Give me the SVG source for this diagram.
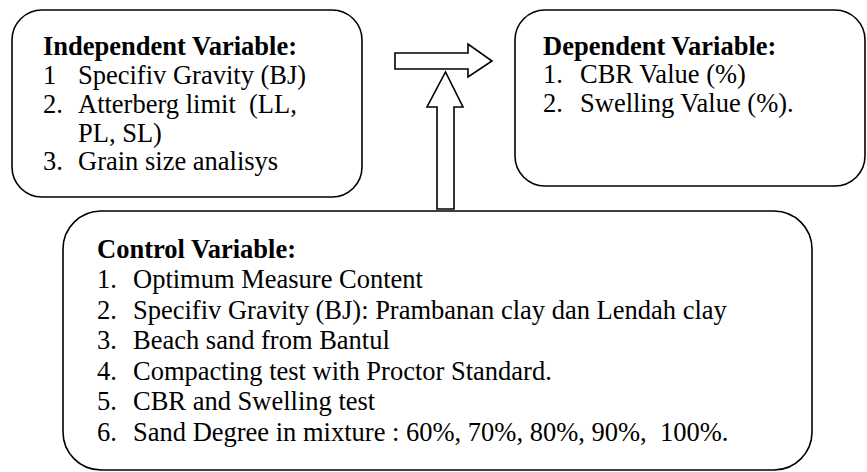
<svg xmlns="http://www.w3.org/2000/svg" width="867" height="472" viewBox="0 0 867 472">
<style>
.box{fill:#fff;stroke:#000;stroke-width:1.6}
.arr{fill:#fff;stroke:#000;stroke-width:1.6;stroke-linejoin:miter}
text{font-family:"Liberation Serif","Times New Roman",serif;font-size:26.5px;fill:#000}
.h{font-weight:bold}
</style>
<rect width="867" height="472" fill="#fff"/>
<g id="connectors">
<polygon class="arr" points="395,53 468,53 468,44 492,61 468,77 468,69 395,69"/>
<polygon class="arr" points="437,209 437,107 427,107 445.5,72 463,107 454,107 454,209"/>
</g>
<g id="independent">
<rect class="box" x="12" y="10" width="350" height="187" rx="30" ry="30"/>
<text class="h" x="43" y="55">Independent Variable:</text>
<text x="43" y="84">1</text><text x="78" y="84">Specifiv Gravity (BJ)</text>
<text x="43" y="113">2.</text><text x="78" y="113" xml:space="preserve">Atterberg limit  (LL,</text>
<text x="78" y="142">PL, SL)</text>
<text x="43" y="170">3.</text><text x="78" y="170">Grain size analisys</text>
</g>
<g id="dependent">
<rect class="box" x="515" y="10" width="350" height="176" rx="30" ry="30"/>
<text class="h" x="543" y="55">Dependent Variable:</text>
<text x="543" y="83">1.</text><text x="580" y="83">CBR Value (%)</text>
<text x="543" y="112">2.</text><text x="580" y="112">Swelling Value (%).</text>
</g>
<g id="control">
<rect class="box" x="63" y="211" width="749" height="259" rx="38" ry="38"/>
<text class="h" x="97" y="258">Control Variable:</text>
<text x="97" y="288">1.</text><text x="133" y="288">Optimum Measure Content</text>
<text x="97" y="318.5">2.</text><text x="133" y="318.5">Specifiv Gravity (BJ): Prambanan clay dan Lendah clay</text>
<text x="97" y="349">3.</text><text x="133" y="349">Beach sand from Bantul</text>
<text x="97" y="379.5">4.</text><text x="133" y="379.5">Compacting test with Proctor Standard.</text>
<text x="97" y="410">5.</text><text x="133" y="410">CBR and Swelling test</text>
<text x="97" y="440.5">6.</text><text x="133" y="440.5" xml:space="preserve">Sand Degree in mixture : 60%, 70%, 80%, 90%,  100%.</text>
</g>
</svg>
